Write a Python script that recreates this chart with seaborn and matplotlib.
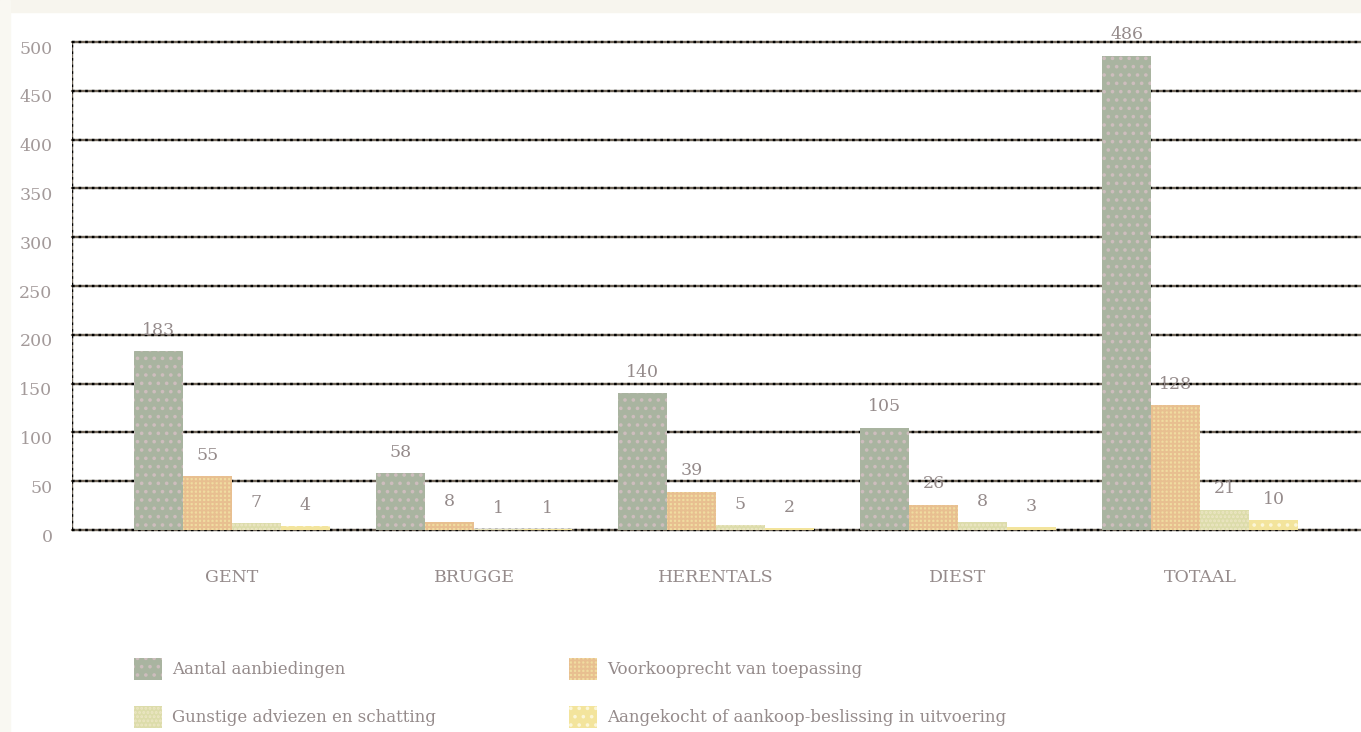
import numpy as np
import pandas as pd
import seaborn as sns
import matplotlib.pyplot as plt
from matplotlib.patches import Patch, Rectangle
from matplotlib.transforms import ScaledTranslation

# === DATOS ===
categorias = ["GENT", "BRUGGE", "HERENTALS", "DIEST", "TOTAAL"]
aantal = [183, 58, 140, 105, 486]
voorkoop = [55, 8, 39, 26, 128]
gunstig = [7, 1, 5, 8, 21]
aangekocht = [4, 1, 2, 3, 10]

series = [
    "Aantal aanbiedingen",
    "Voorkooprecht van toepassing",
    "Gunstige adviezen en schatting",
    "Aangekocht of aankoop-beslissing in uitvoering",
]
y_ticks = list(range(0, 501, 50))

df = pd.DataFrame({
    "cat": categorias * 4,
    "serie": np.repeat(series, len(categorias)),
    "valor": aantal + voorkoop + gunstig + aangekocht,
})

# estilo: fondo, trama, color de trama
estilos = [
    ("#a9b4a0", "..", "#cdbdbd"),
    ("#f0dca0", "++++", "#e8bf90"),
    ("#dcdcaa", "....", "#ece6c4"),
    ("#f3e49c", "..", "#fbf6d8"),
]
texto_gris = "#958b8b"

sns.set_style("white")
plt.rcParams["font.family"] = ["DejaVu Serif"]
plt.rcParams["hatch.linewidth"] = 1.4

fig = plt.figure(figsize=(13.61, 7.32), dpi=100)
fig.patch.set_facecolor("white")
# franja crema arriba y a la izquierda
fig.patches.append(Rectangle((0, 1 - 12 / 732), 1, 12 / 732, transform=fig.transFigure,
                             color="#f7f5ee", zorder=0))
fig.patches.append(Rectangle((0, 0), 10 / 1361, 1, transform=fig.transFigure,
                             color="#f9f8f2", zorder=0))

ax = fig.add_axes([72 / 1361, 1 - 530 / 732, 1 - 72 / 1361, 488 / 732])
ax.set_facecolor("none")

sns.barplot(data=df, x="cat", y="valor", hue="serie", hue_order=series,
            order=categorias, width=0.81, legend=False, ax=ax, zorder=3)

for cont, (fc, hatch, hc) in zip(ax.containers, estilos):
    for bar in cont:
        bar.set_facecolor(fc)
        bar.set_edgecolor(hc)
        bar.set_hatch(hatch)
        bar.set_linewidth(0)
    ax.bar_label(cont, padding=9, fontsize=12.5, color=texto_gris)

ax.set_xlim(-0.661, 4.665)
ax.set_ylim(0, 500)

# lineas de la grilla punteadas
for y in y_ticks:
    ax.axhline(y, color="#6e6458", lw=1.7, zorder=1, clip_on=False)
    ax.axhline(y, color="#000000", lw=1.7, ls=(0, (1.1, 1.7)), zorder=1.5, clip_on=False)
ax.axvline(-0.661, color="#6e6458", lw=1.7, zorder=1)
ax.axvline(-0.661, color="#000000", lw=1.7, ls=(0, (1.1, 1.7)), zorder=1.5)

sns.despine(ax=ax, left=True, bottom=True)
ax.set_yticks(y_ticks)
ax.set_yticklabels([str(t) for t in y_ticks], fontsize=12.5, color="#a39a9a")
ax.tick_params(axis="y", length=0, pad=14)
for lab in ax.get_yticklabels():
    lab.set_transform(lab.get_transform() + ScaledTranslation(0, -5 / 100, fig.dpi_scale_trans))
ax.tick_params(axis="x", length=0, pad=28, labelsize=12.5, labelcolor=texto_gris)
ax.set_xlabel("")
ax.set_ylabel("")

# leyenda en dos columnas
handles = [Patch(facecolor=fc, edgecolor=hc, hatch=h, linewidth=0) for fc, h, hc in estilos]
kw = dict(frameon=False, fontsize=12, labelcolor=texto_gris, handlelength=1.65,
          handleheight=1.65, handletextpad=0.65, labelspacing=1.55, borderpad=0,
          borderaxespad=0, loc="upper left", bbox_transform=fig.transFigure)
fig.legend([handles[0], handles[2]], [series[0], series[2]],
           bbox_to_anchor=(134 / 1361, 1 - 658 / 732), **kw)
fig.legend([handles[1], handles[3]], [series[1], series[3]],
           bbox_to_anchor=(569 / 1361, 1 - 658 / 732), **kw)

plt.savefig("out.png", dpi=100)
